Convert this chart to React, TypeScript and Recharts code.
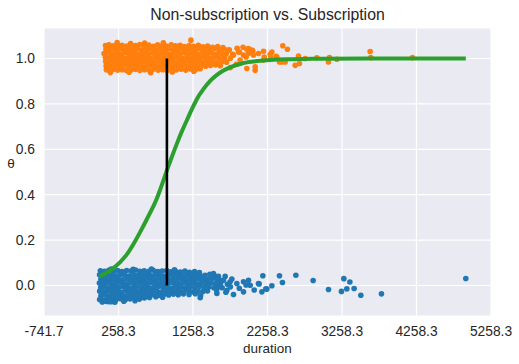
import React from 'react';
import { ComposedChart, Scatter, Line, XAxis, YAxis, CartesianGrid, Label } from 'recharts';

// duration, theta (jittered) for the non-subscription group
const blueCore: [number, number][] = [
  [15, 0.065], [72, 0.062], [128, 0.067], [190, 0.063], [247, 0.066], [305, 0.061], [368, 0.066], [425, 0.064],
  [487, 0.068], [546, 0.062], [604, 0.065], [668, 0.063], [724, 0.067], [786, 0.061], [845, 0.064], [906, 0.066],
  [962, 0.06], [1025, 0.063], [1088, 0.059], [1150, 0.064], [1212, 0.058], [1280, 0.061], [1345, 0.057],
  [160, 0.072], [455, 0.071], [700, 0.072], [1010, 0.069],
  [4, 0.047], [46, 0.044], [104, 0.048], [163, 0.045], [222, 0.043], [281, 0.047], [342, 0.046], [398, 0.042],
  [458, 0.048], [517, 0.045], [578, 0.044], [636, 0.047], [697, 0.043], [755, 0.048], [816, 0.045], [874, 0.042],
  [935, 0.047], [993, 0.044], [1054, 0.046], [1115, 0.043], [1177, 0.048], [1236, 0.044], [1298, 0.047],
  [1360, 0.042], [1420, 0.045], [1484, 0.049], [1548, 0.043],
  [22, 0.027], [80, 0.03], [136, 0.026], [196, 0.029], [255, 0.028], [316, 0.025], [374, 0.03], [436, 0.027],
  [495, 0.029], [555, 0.026], [618, 0.028], [677, 0.031], [736, 0.026], [797, 0.029], [856, 0.027], [918, 0.03],
  [976, 0.025], [1037, 0.028], [1096, 0.031], [1158, 0.026], [1218, 0.029], [1279, 0.027], [1340, 0.03],
  [1401, 0.025], [1462, 0.028], [1525, 0.031], [1590, 0.026],
  [2, 0.011], [54, 0.008], [110, 0.012], [168, 0.009], [226, 0.01], [287, 0.013], [346, 0.007], [405, 0.011],
  [466, 0.009], [527, 0.012], [586, 0.008], [645, 0.01], [706, 0.013], [767, 0.009], [826, 0.011], [887, 0.007],
  [946, 0.012], [1006, 0.01], [1067, 0.008], [1127, 0.012], [1188, 0.009], [1249, 0.011], [1310, 0.007],
  [1372, 0.012], [1433, 0.009], [1495, 0.011], [1560, 0.008], [1630, 0.012],
  [20, -0.009], [78, -0.006], [137, -0.01], [197, -0.007], [258, -0.009], [317, -0.005], [377, -0.008],
  [437, -0.011], [497, -0.007], [558, -0.009], [617, -0.006], [678, -0.01], [737, -0.008], [797, -0.005],
  [858, -0.009], [917, -0.007], [978, -0.011], [1038, -0.008], [1098, -0.006], [1160, -0.01], [1221, -0.007],
  [1283, -0.009], [1345, -0.005], [1408, -0.009], [1470, -0.007], [1538, -0.01], [1600, -0.006],
  [6, -0.025], [58, -0.028], [115, -0.024], [174, -0.027], [233, -0.026], [292, -0.029], [352, -0.024],
  [412, -0.027], [472, -0.025], [532, -0.028], [591, -0.026], [652, -0.023], [712, -0.027], [772, -0.025],
  [831, -0.029], [893, -0.026], [952, -0.024], [1013, -0.028], [1075, -0.025], [1137, -0.027], [1199, -0.023],
  [1262, -0.028], [1325, -0.025], [1390, -0.027], [1452, -0.024],
  [22, -0.045], [82, -0.042], [141, -0.046], [200, -0.044], [261, -0.041], [321, -0.045], [381, -0.043],
  [441, -0.046], [502, -0.042], [561, -0.044], [623, -0.04], [684, -0.044], [745, -0.041], [806, -0.043],
  [869, -0.039], [932, -0.042], [995, -0.038], [1060, -0.041], [1130, -0.037], [1205, -0.04], [1290, -0.036],
  [1360, -0.045],
  [5, -0.062], [55, -0.064], [113, -0.06], [170, -0.063], [230, -0.061], [290, -0.058], [352, -0.062],
  [413, -0.059], [475, -0.057], [540, -0.06], [605, -0.055], [675, -0.053], [760, -0.05], [850, -0.052],
  [40, -0.073], [90, -0.07], [125, -0.071], [160, -0.072], [210, -0.074], [330, -0.069], [480, -0.067],
];

const blueTail: [number, number][] = [
  [1533, 0.053], [1600, 0.04], [1640, 0.022], [1575, -0.02], [1700, -0.03], [1623, 0.001], [1650, -0.01],
  [1667, 0.023], [1690, 0.04], [1713, -0.021], [1720, 0.005], [1757, 0.016], [1760, -0.006], [1780, 0.028],
  [1802, -0.04], [1847, 0.009], [1880, -0.012], [1936, 0.016], [1936, -0.028], [1970, 0.002], [2003, 0.023],
  [2026, 0.001], [2080, -0.02], [2137, 0.009], [2146, 0.007], [2183, -0.028], [2196, 0.043], [2236, -0.015],
  [2250, -0.016], [2317, -0.001], [2419, 0.043], [2459, 0.013], [2639, 0.045], [2871, 0.022], [3077, -0.018],
  [3251, -0.026], [3283, 0.03], [3323, -0.015], [3364, 0.015], [3421, -0.013], [3511, -0.043], [3788, -0.037],
  [4920, 0.031], [1355, -0.054], [1579, -0.035],
];

// duration, theta (jittered) for the subscription group
const orangeCore: [number, number][] = [
  [84, 1.057], [130, 1.06], [188, 1.056], [250, 1.061], [306, 1.058], [368, 1.055], [425, 1.06], [487, 1.057],
  [545, 1.062], [606, 1.056], [664, 1.059], [726, 1.054], [784, 1.06], [846, 1.057], [904, 1.055], [966, 1.061],
  [1024, 1.056], [1086, 1.058], [1144, 1.053], [1206, 1.057], [1268, 1.054], [1330, 1.058], [1392, 1.052],
  [1455, 1.055], [1520, 1.05], [1590, 1.053], [1660, 1.048],
  [240, 1.07], [420, 1.066], [610, 1.068], [860, 1.069], [1230, 1.081],
  [90, 1.041], [104, 1.038], [160, 1.042], [218, 1.039], [278, 1.043], [336, 1.037], [397, 1.041], [455, 1.039],
  [516, 1.042], [575, 1.038], [636, 1.04], [694, 1.043], [755, 1.037], [814, 1.041], [875, 1.039], [934, 1.042],
  [995, 1.038], [1054, 1.04], [1115, 1.043], [1174, 1.037], [1236, 1.041], [1297, 1.039], [1360, 1.042],
  [1421, 1.038], [1484, 1.041], [1546, 1.044], [1610, 1.039], [1675, 1.042], [1745, 1.038],
  [64, 1.022], [130, 1.024], [188, 1.02], [248, 1.023], [308, 1.021], [366, 1.025], [426, 1.02], [486, 1.022],
  [546, 1.019], [606, 1.024], [665, 1.021], [724, 1.023], [785, 1.02], [845, 1.024], [905, 1.021], [964, 1.019],
  [1025, 1.023], [1085, 1.021], [1145, 1.025], [1205, 1.02], [1266, 1.022], [1328, 1.019], [1390, 1.024],
  [1452, 1.021], [1514, 1.023], [1577, 1.02], [1640, 1.024], [1705, 1.021], [1790, 1.019],
  [82, 1.005], [102, 1.002], [158, 1.006], [218, 1.003], [276, 1.005], [337, 1.001], [396, 1.004], [456, 1.006],
  [515, 1.002], [576, 1.005], [635, 1.003], [695, 1.0], [756, 1.004], [815, 1.006], [876, 1.002], [935, 1.005],
  [996, 1.003], [1055, 1.006], [1116, 1.001], [1176, 1.004], [1238, 1.002], [1299, 1.005], [1361, 1.003],
  [1422, 1.006], [1485, 1.001], [1548, 1.004], [1612, 1.002], [1680, 1.005], [1760, 1.001],
  [86, 0.987], [128, 0.984], [188, 0.988], [247, 0.985], [307, 0.987], [367, 0.983], [426, 0.986], [486, 0.988],
  [546, 0.984], [606, 0.987], [666, 0.985], [725, 0.982], [786, 0.986], [846, 0.988], [905, 0.984], [966, 0.986],
  [1026, 0.983], [1086, 0.987], [1146, 0.985], [1207, 0.988], [1268, 0.984], [1330, 0.986], [1392, 0.983],
  [1455, 0.987], [1518, 0.985], [1582, 0.982], [1648, 0.986], [1710, 0.984],
  [92, 0.967], [100, 0.97], [158, 0.966], [217, 0.969], [277, 0.967], [336, 0.971], [396, 0.966], [456, 0.968],
  [516, 0.97], [575, 0.965], [636, 0.968], [696, 0.97], [756, 0.966], [815, 0.969], [876, 0.967], [936, 0.971],
  [995, 0.966], [1056, 0.968], [1117, 0.97], [1178, 0.966], [1240, 0.969], [1302, 0.967], [1365, 0.97],
  [1428, 0.966], [1492, 0.969], [1560, 0.972], [1625, 0.968],
  [96, 0.951], [130, 0.948], [188, 0.952], [248, 0.949], [308, 0.951], [367, 0.947], [427, 0.95], [487, 0.952],
  [546, 0.948], [607, 0.951], [667, 0.949], [727, 0.953], [788, 0.949], [849, 0.951], [910, 0.947], [972, 0.952],
  [1035, 0.95], [1098, 0.953], [1160, 0.949], [1225, 0.954], [1290, 0.951], [1355, 0.955],
  [150, 0.938], [400, 0.94], [690, 0.937], [980, 0.941], [1270, 0.944],
];

const orangeTail: [number, number][] = [
  [1646, 1.022], [1734, 1.037], [1760, 0.96], [1801, 1.015], [1840, 0.975], [1850, 1.045], [1869, 1.029],
  [1882, 1.029], [1891, 0.993], [1930, 1.05], [1936, 1.015], [1972, 1.007], [1981, 1.041], [1981, 0.956],
  [2003, 1.022], [2003, 1.044], [2048, 1.037], [2062, 1.034], [2070, 1.015], [2093, 0.963], [2093, 0.948],
  [2137, 1.022], [2205, 1.032], [2205, 0.993], [2214, 1.007], [2294, 1.019], [2303, 1.007], [2317, 1.029],
  [2375, 1.01], [2384, 1.007], [2419, 0.985], [2451, 0.985], [2464, 1.056], [2495, 0.985], [2526, 1.041],
  [2630, 0.97], [2674, 1.011], [2687, 0.978], [2764, 1.0], [2921, 1.003], [3076, 0.985], [3090, 1.004],
  [3189, 0.997], [3636, 1.031], [3645, 1.004], [4204, 1.004],
];

// fitted logistic curve
const curveDuration = [0, 140, 281, 370, 460, 550, 640, 774, 840, 908, 975, 1042, 1110, 1176, 1245, 1311, 1400, 1489, 1580, 1668, 1780, 1892, 2000, 2116, 2295, 2600, 3000, 3600, 4920];
const curveTheta = [0.04, 0.065, 0.103, 0.137, 0.183, 0.236, 0.293, 0.384, 0.443, 0.507, 0.567, 0.625, 0.68, 0.728, 0.778, 0.822, 0.866, 0.902, 0.928, 0.947, 0.964, 0.976, 0.984, 0.989, 0.994, 0.997, 0.999, 1.0, 1.0];

const boundaryDuration = 908;
const boundaryTheta = [0, 1];

const xTicks = [-741.7, 258.3, 1258.3, 2258.3, 3258.3, 4258.3, 5258.3];
const yTicks = [0, 0.2, 0.4, 0.6, 0.8, 1.0];

const FONT = "'Liberation Sans', Arial, sans-serif";
const TEXT = '#262626';

const toPts = (arr: [number, number][]) => arr.map(([x, y]) => ({ x, y }));
const bluePoints = toPts([...blueCore, ...blueTail]);
const orangePoints = toPts([...orangeCore, ...orangeTail]);
const curve = curveDuration.map((x, i) => ({ x, y: curveTheta[i] }));
const boundary = boundaryTheta.map((y) => ({ x: boundaryDuration, y }));

const dot = (color: string) => (p: any) => <circle cx={p.cx} cy={p.cy} r={2.8} fill={color} />;

export default function App() {
  return (
    <div style={{ position: 'absolute', left: 0, top: 0, width: 519, height: 364, fontFamily: FONT, background: '#fff' }}>
      <div style={{ position: 'absolute', left: 0, width: 535, top: 7, textAlign: 'center', fontSize: 15.8, lineHeight: '15.8px', color: TEXT }}>
        Non-subscription vs. Subscription
      </div>
      <div style={{ position: 'absolute', left: 0, width: 22, top: 157, textAlign: 'center', fontSize: 13.5, lineHeight: '13px', color: TEXT }}>
        θ
      </div>
      <ComposedChart width={519} height={364} margin={{ top: 28, right: 28, bottom: 0, left: 0 }}>
        <CartesianGrid fill="#EAEAF2" stroke="#ffffff" strokeWidth={1.2} />
        <XAxis
          dataKey="x"
          type="number"
          domain={[-741.7, 5258.3]}
          ticks={xTicks}
          interval={0}
          tickFormatter={(v: number) => v.toFixed(1)}
          axisLine={false}
          tickLine={false}
          tickSize={8}
          tickMargin={2}
          height={48}
          allowDataOverflow
          tick={{ fontSize: 13.8, fill: TEXT, fontFamily: FONT }}
        >
          <Label value="duration" position="insideBottom" offset={11} fontSize={13.5} fill={TEXT} fontFamily={FONT} />
        </XAxis>
        <YAxis
          dataKey="y"
          type="number"
          domain={[-0.1345, 1.1345]}
          ticks={yTicks}
          interval={0}
          tickFormatter={(v: number) => v.toFixed(1)}
          axisLine={false}
          tickLine={false}
          tickSize={7}
          tickMargin={2}
          width={44}
          allowDataOverflow
          tick={{ fontSize: 13.8, fill: TEXT, fontFamily: FONT }}
        />
        <Scatter data={bluePoints} fill="#1f77b4" shape={dot('#1f77b4')} isAnimationActive={false} zIndex={600} />
        <Scatter data={orangePoints} fill="#ff7f0e" shape={dot('#ff7f0e')} isAnimationActive={false} zIndex={610} />
        <Line
          data={curve}
          dataKey="y"
          type="monotone"
          stroke="#2ca02c"
          strokeWidth={4}
          dot={false}
          activeDot={false}
          isAnimationActive={false}
          zIndex={700}
        />
        <Line
          data={boundary}
          dataKey="y"
          type="linear"
          stroke="#000000"
          strokeWidth={2.6}
          dot={false}
          activeDot={false}
          isAnimationActive={false}
          zIndex={800}
        />
      </ComposedChart>
    </div>
  );
}
